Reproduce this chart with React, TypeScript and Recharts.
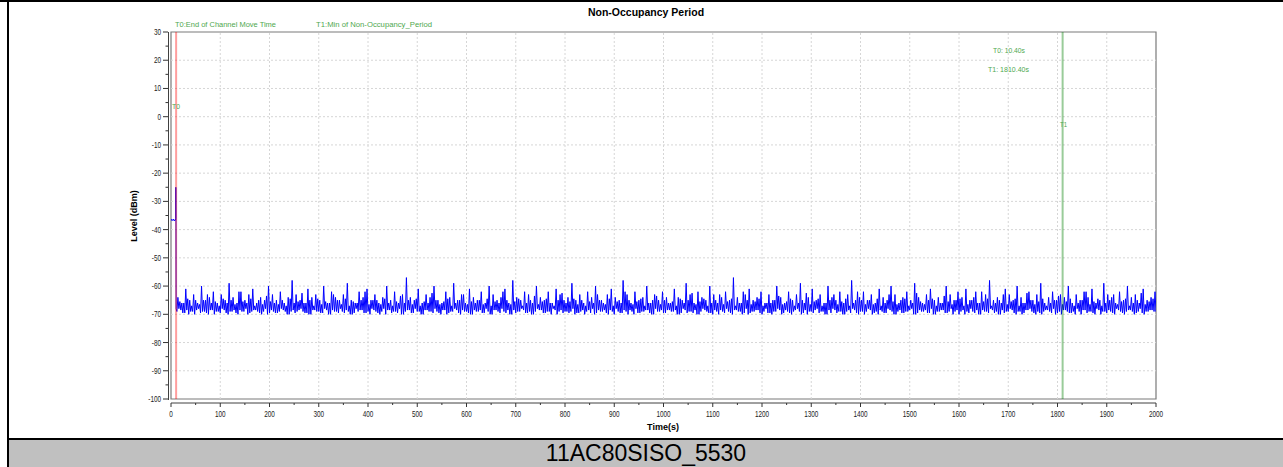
import React from 'react';
import { LineChart, Line, XAxis, YAxis, ReferenceLine, ReferenceArea, usePlotArea } from 'recharts';

// trace before T0 (channel move), time in s / level in dBm
const preT0Times = [0, 1, 2, 3, 4, 5, 6, 7, 8, 9, 9.6, 9.8, 10.1, 10.4];
const preT0Levels = [-36.6, -36.4, -36.8, -36.5, -36.7, -36.3, -36.6, -36.9, -36.5, -36.6, -36.2, -25, -36, -68];

// non-occupancy noise, read per 8 s bin: floor, peak, dip, mid (2 s apart)
const NOISE_START = 12;
const NOISE_STEP = 2;

const noiseLows = [
  -69, -68.5, -69.5, -70, -69, -68.5, -69.5, -69, -70, -68.5, -69, -69.5, -68.5, -70, -69, -69.5, -68.5, -69, -70, -69, -68.5, -69.5, -69, -70, -68.5,
  -69.5, -69, -68.5, -70, -69, -69.5, -68.5, -69, -69.5, -70, -68.5, -69, -69.5, -68.5, -70, -69, -69.5, -69, -68.5, -70, -69.5, -69, -68.5, -69.5, -70,
  -68.5, -69.5, -69, -70, -68.5, -69, -69.5, -70, -69, -68.5, -69.5, -69, -70, -68.5, -69, -69.5, -69, -70, -68.5, -69.5, -69, -68.5, -70, -69, -69.5,
  -70, -69, -68.5, -69.5, -69, -70, -68.5, -69.5, -69, -68.5, -70, -69.5, -69, -68.5, -69.5, -70, -69, -68.5, -69.5, -69, -70, -68.5, -69, -69.5, -69,
  -69, -70, -69.5, -68.5, -69, -69.5, -70, -68.5, -69, -69.5, -68.5, -70, -69, -69.5, -69, -68.5, -70, -69.5, -69, -68.5, -69.5, -70, -69, -68.5, -69.5,
  -68.5, -69, -70, -69.5, -68.5, -69, -69.5, -70, -69, -68.5, -69.5, -70, -69, -68.5, -69.5, -69, -70, -68.5, -69, -69.5, -70, -69, -68.5, -69.5, -69,
  -69.5, -70, -69, -68.5, -69.5, -69, -70, -68.5, -69, -69.5, -70, -69, -68.5, -69.5, -69, -70, -69.5, -68.5, -69, -70, -69, -69.5, -68.5, -70, -69,
  -69, -68.5, -69.5, -70, -69, -69.5, -68.5, -70, -69, -69.5, -69, -68.5, -70, -69.5, -69, -68.5, -69.5, -70, -69, -68.5, -69.5, -69, -70, -68.5, -69,
  -70, -69.5, -69, -68.5, -70, -69, -69.5, -68.5, -69, -70, -69.5, -69, -68.5, -70, -69, -69.5, -68.5, -69, -70, -69.5, -69, -68.5, -69.5, -70, -69,
  -68.5, -69, -69.5, -70, -69, -68.5, -69.5, -69, -70, -68.5, -69, -69.5, -69, -70, -68.5, -69.5, -69, -68.5, -70, -69, -69.5, -69, -68.5, -69,
];

const noisePeaks = [
  -64, -66, -61, -65, -63, -66, -60, -65, -64, -62, -66, -63, -65, -59, -64, -66, -62, -65, -63, -61, -66, -64, -65, -60, -63,
  -65, -62, -66, -64, -58, -63, -65, -66, -61, -64, -63, -65, -60, -66, -62, -64, -65, -63, -59, -65, -66, -62, -64, -61, -65,
  -63, -66, -64, -60, -65, -62, -66, -63, -57, -64, -65, -61, -66, -63, -64, -60, -65, -66, -62, -64, -59, -65, -63, -66, -61,
  -64, -65, -62, -66, -60, -63, -65, -64, -61, -66, -58, -64, -65, -62, -63, -66, -60, -64, -65, -62, -66, -61, -63, -65, -64,
  -59, -65, -63, -66, -62, -64, -60, -65, -66, -63, -61, -64, -65, -58, -63, -66, -62, -65, -64, -60, -66, -63, -65, -62, -64,
  -66, -61, -64, -65, -59, -63, -66, -62, -64, -65, -60, -63, -66, -64, -62, -65, -57, -64, -66, -63, -61, -65, -64, -62, -66,
  -63, -65, -60, -64, -66, -62, -65, -63, -59, -66, -64, -61, -65, -63, -66, -60, -64, -65, -62, -66, -63, -58, -65, -64, -62,
  -65, -63, -66, -61, -64, -65, -60, -63, -66, -64, -62, -65, -59, -64, -66, -63, -61, -65, -64, -66, -60, -63, -65, -62, -64,
  -61, -65, -64, -66, -62, -63, -58, -65, -64, -66, -61, -63, -65, -60, -64, -66, -62, -65, -63, -59, -66, -64, -62, -65, -63,
  -64, -60, -66, -63, -65, -62, -64, -61, -66, -65, -59, -63, -64, -66, -62, -65, -60, -64, -63, -66, -61, -65, -64, -62,
];

const noiseDips = [
  -68, -69.5, -68.5, -69, -70, -68, -69, -69.5, -68.5, -70, -69, -68, -69.5, -69, -68.5, -70, -69, -68, -69.5, -68.5, -69, -70, -68, -69.5, -69,
  -69.5, -68, -69, -70, -68.5, -69, -68, -69.5, -70, -68.5, -69, -69.5, -68, -70, -68.5, -69, -68, -69.5, -69, -70, -68, -68.5, -69.5, -69, -68,
  -69, -70, -68, -68.5, -69.5, -69, -68, -70, -68.5, -69.5, -68, -69, -70, -68.5, -69, -68, -69.5, -68.5, -70, -69, -68, -69.5, -68.5, -69, -70,
  -68.5, -69, -69.5, -68, -70, -68.5, -69, -68, -69.5, -70, -68.5, -69, -68, -69.5, -69, -70, -68, -68.5, -69.5, -69, -68, -70, -68.5, -69, -69.5,
  -68, -69.5, -69, -70, -68.5, -68, -69.5, -69, -68.5, -70, -69, -68, -69.5, -68.5, -70, -69, -68, -69.5, -69, -68.5, -70, -68, -69, -69.5, -68.5,
  -69, -68.5, -70, -68, -69.5, -69, -68.5, -70, -68, -69, -69.5, -68.5, -70, -69, -68, -69.5, -68.5, -69, -70, -68, -69.5, -69, -68.5, -70, -68,
  -69.5, -69, -68, -70, -68.5, -69.5, -69, -68, -70, -68.5, -69, -69.5, -68, -69, -70, -68.5, -68, -69.5, -69, -70, -68.5, -68, -69.5, -69, -70,
  -68, -70, -69, -68.5, -69.5, -68, -69, -70, -68.5, -69.5, -69, -68, -70, -68.5, -69, -69.5, -68, -70, -69, -68.5, -69.5, -68, -69, -70, -68.5,
  -69, -68, -69.5, -70, -68.5, -69, -68, -69.5, -70, -68.5, -69, -68, -69.5, -69, -70, -68.5, -68, -69.5, -69, -70, -68.5, -69, -68, -69.5, -70,
  -68.5, -69.5, -69, -68, -70, -68.5, -69, -69.5, -68, -70, -69, -68.5, -69.5, -68, -69, -70, -68.5, -69, -69.5, -68, -70, -69, -68.5, -69,
];

const noiseMids = [
  -65.5, -66, -64.5, -67, -65, -66.5, -65, -63, -66, -65.5, -67, -64.5, -66, -65, -66.5, -62, -65.5, -66, -64.5, -67, -65, -66.5, -63.5, -65.5, -66,
  -66.5, -65, -67, -64.5, -66, -65.5, -62.5, -66, -65, -67, -64.5, -66.5, -65.5, -66, -63, -65, -66.5, -64.5, -67, -65.5, -66, -65, -62, -66.5, -65,
  -65, -66.5, -64.5, -66, -67, -65.5, -63.5, -66, -65, -66.5, -64.5, -67, -65.5, -66, -62.5, -65, -66.5, -65.5, -64.5, -67, -66, -65, -63, -66.5, -65.5,
  -66, -65, -66.5, -64.5, -67, -65.5, -66, -62, -65, -66.5, -65.5, -64.5, -67, -66, -65, -63.5, -66.5, -65.5, -64.5, -66, -67, -65, -62.5, -66, -65.5,
  -64.5, -66.5, -65, -67, -65.5, -66, -63, -65, -66.5, -64.5, -67, -65.5, -66, -62, -65, -66.5, -65.5, -64.5, -67, -66, -65, -63.5, -66.5, -65, -66,
  -65.5, -67, -64.5, -66, -65, -62.5, -66.5, -65.5, -64.5, -67, -66, -65, -63, -66.5, -65.5, -64.5, -67, -66, -62, -65, -66.5, -65.5, -64.5, -67, -66,
  -66, -65, -63.5, -66.5, -65.5, -64.5, -67, -66, -65, -62.5, -66.5, -65.5, -64.5, -67, -66, -65, -63, -66.5, -65.5, -64.5, -67, -66, -62, -65, -66.5,
  -65, -66.5, -64.5, -67, -66, -63, -65.5, -66.5, -65, -64.5, -67, -66, -62.5, -65.5, -66.5, -65, -64.5, -67, -66, -63.5, -65.5, -66.5, -65, -64.5, -67,
  -66.5, -65, -62, -66, -65.5, -64.5, -67, -66, -65, -63, -66.5, -65.5, -64.5, -67, -66, -62.5, -65, -66.5, -65.5, -64.5, -67, -66, -65, -63.5, -66.5,
  -65.5, -64.5, -67, -66, -65, -62, -66.5, -65.5, -64.5, -67, -66, -65, -63, -66.5, -65.5, -64.5, -67, -66, -65, -62.5, -66.5, -65.5, -64.5, -67,
];

const T0 = 10.4;
const T1 = 1810.4;

const xTicks = [0, 50, 100, 150, 200, 250, 300, 350, 400, 450, 500, 550, 600, 650, 700, 750, 800, 850, 900, 950, 1000,
  1050, 1100, 1150, 1200, 1250, 1300, 1350, 1400, 1450, 1500, 1550, 1600, 1650, 1700, 1750, 1800, 1850, 1900, 1950, 2000];
const yTicks = [-100, -95, -90, -85, -80, -75, -70, -65, -60, -55, -50, -45, -40, -35, -30, -25, -20, -15, -10, -5, 0, 5, 10, 15, 20, 25, 30];
const xGrid = [100, 200, 300, 400, 500, 600, 700, 800, 900, 1000, 1100, 1200, 1300, 1400, 1500, 1600, 1700, 1800, 1900];
const yGrid = [-90, -80, -70, -60, -50, -40, -30, -20, -10, 0, 10, 20];

const data = [
  ...preT0Times.map((t, i) => ({ t, level: preT0Levels[i] })),
  ...noiseLows.flatMap((low, i) => {
    const t = NOISE_START + NOISE_STEP * 4 * i;
    return [
      { t, level: low },
      { t: t + NOISE_STEP, level: noisePeaks[i] },
      { t: t + NOISE_STEP * 2, level: noiseDips[i] },
      { t: t + NOISE_STEP * 3, level: noiseMids[i] },
    ];
  }),
];

const FONT = '"Liberation Sans", Arial, sans-serif';
const GREEN = '#4fa84f';

const XTick = (props: any) => {
  const { x, y, payload } = props;
  const major = payload.value % 100 === 0;
  return (
    <g>
      <line x1={x} y1={y + 4} x2={x} y2={y + (major ? 8 : 6)} stroke="#333" />
      {major && (
        <text transform={`translate(${x},${y + 18}) scale(0.75,1)`} textAnchor="middle" fontSize={8.5} fontFamily={FONT} fill="#222">
          {payload.value}
        </text>
      )}
    </g>
  );
};

const YTick = (props: any) => {
  const { x, y, payload } = props;
  const major = payload.value % 10 === 0;
  return (
    <g>
      <line x1={x - 3} y1={y} x2={x - (major ? 8 : 5.5)} y2={y} stroke="#333" />
      {major && (
        <text transform={`translate(${x - 10},${y + 3}) scale(0.75,1)`} textAnchor="end" fontSize={8.5} fontFamily={FONT} fill="#222">
          {payload.value}
        </text>
      )}
    </g>
  );
};

const AxisLines = () => {
  const area = usePlotArea();
  if (!area) return null;
  const { x, y, width, height } = area;
  return (
    <g>
      <line x1={x - 2.5} y1={y} x2={x - 2.5} y2={y + height + 1} stroke="#404040" />
      <line x1={x} y1={y + height + 4} x2={x + width} y2={y + height + 4} stroke="#404040" />
    </g>
  );
};

export default function App() {
  return (
    <div style={{ position: 'absolute', left: 0, top: 0, width: 1283, height: 467, background: '#fff', overflow: 'hidden', fontFamily: FONT }}>
      <LineChart width={1283} height={437} data={data} margin={{ top: 32, right: 127, bottom: 0, left: 0 }}>
        <XAxis type="number" dataKey="t" domain={[0, 2000]} ticks={xTicks} interval={0} allowDataOverflow
          axisLine={false} tickLine={false} tickSize={0} tickMargin={0} height={38} tick={<XTick />} />
        <YAxis type="number" domain={[-100, 30]} ticks={yTicks} interval={0} allowDataOverflow
          axisLine={false} tickLine={false} tickSize={0} tickMargin={0} width={171} tick={<YTick />} />
        {xGrid.map(v => (
          <ReferenceLine key={'gx' + v} x={v} stroke="#d6d6d6" strokeDasharray="2 2" />
        ))}
        {yGrid.map(v => (
          <ReferenceLine key={'gy' + v} y={v} stroke="#d6d6d6" strokeDasharray="2 2" />
        ))}
        <Line type="linear" dataKey="level" stroke="#0000ff" strokeWidth={1} dot={false} isAnimationActive={false} />
        <ReferenceLine x={T0} stroke="rgba(255,0,0,0.38)" strokeWidth={2} />
        <ReferenceLine x={T1} stroke="rgba(0,128,0,0.4)" strokeWidth={2} />
        <ReferenceArea x1={0} x2={2000} y1={-100} y2={30} fill="none" fillOpacity={0} stroke="#7a7a7a" strokeWidth={1.2} />
        <AxisLines />
      </LineChart>

      <svg width={1283} height={437} style={{ position: 'absolute', left: 0, top: 0, pointerEvents: 'none' }}>
        <text x={646} y={15.5} textAnchor="middle" fontSize={10.5} fontWeight="bold" fontFamily={FONT} fill="#000">Non-Occupancy Period</text>
        <text x={175} y={26.5} fontSize={7.5} fontFamily={FONT} fill={GREEN} textLength={101} lengthAdjust="spacingAndGlyphs">T0:End of Channel Move Time</text>
        <text x={316} y={26.5} fontSize={7.5} fontFamily={FONT} fill={GREEN} textLength={116} lengthAdjust="spacingAndGlyphs">T1:Min of Non-Occupancy_Period</text>
        <text x={993} y={52.5} fontSize={7.5} fontFamily={FONT} fill={GREEN} textLength={32} lengthAdjust="spacingAndGlyphs">T0: 10.40s</text>
        <text x={988} y={71.5} fontSize={7.5} fontFamily={FONT} fill={GREEN} textLength={41} lengthAdjust="spacingAndGlyphs">T1: 1810.40s</text>
        <text x={172} y={109} fontSize={7.5} fontFamily={FONT} fill={GREEN} textLength={8} lengthAdjust="spacingAndGlyphs">T0</text>
        <text x={1060} y={127} fontSize={7.5} fontFamily={FONT} fill={GREEN} textLength={7} lengthAdjust="spacingAndGlyphs">T1</text>
        <text transform="translate(137,216) rotate(-90)" textAnchor="middle" fontSize={9} fontWeight="bold" fontFamily={FONT} fill="#000">Level (dBm)</text>
        <text x={663} y={429.5} textAnchor="middle" fontSize={9} fontWeight="bold" fontFamily={FONT} fill="#000">Time(s)</text>
      </svg>

      <div style={{ position: 'absolute', left: 0, top: 0, width: 1283, height: 2, background: '#000' }} />
      <div style={{ position: 'absolute', left: 7, top: 0, width: 2, height: 467, background: '#000' }} />
      <div style={{ position: 'absolute', left: 9, top: 438, width: 1274, height: 2, background: '#000' }} />
      <div style={{ position: 'absolute', left: 9, top: 440, width: 1274, height: 27, background: '#c0c0c0',
        textAlign: 'center', fontSize: 23, lineHeight: '27px', color: '#000' }}>
        11AC80SISO_5530
      </div>
    </div>
  );
}
